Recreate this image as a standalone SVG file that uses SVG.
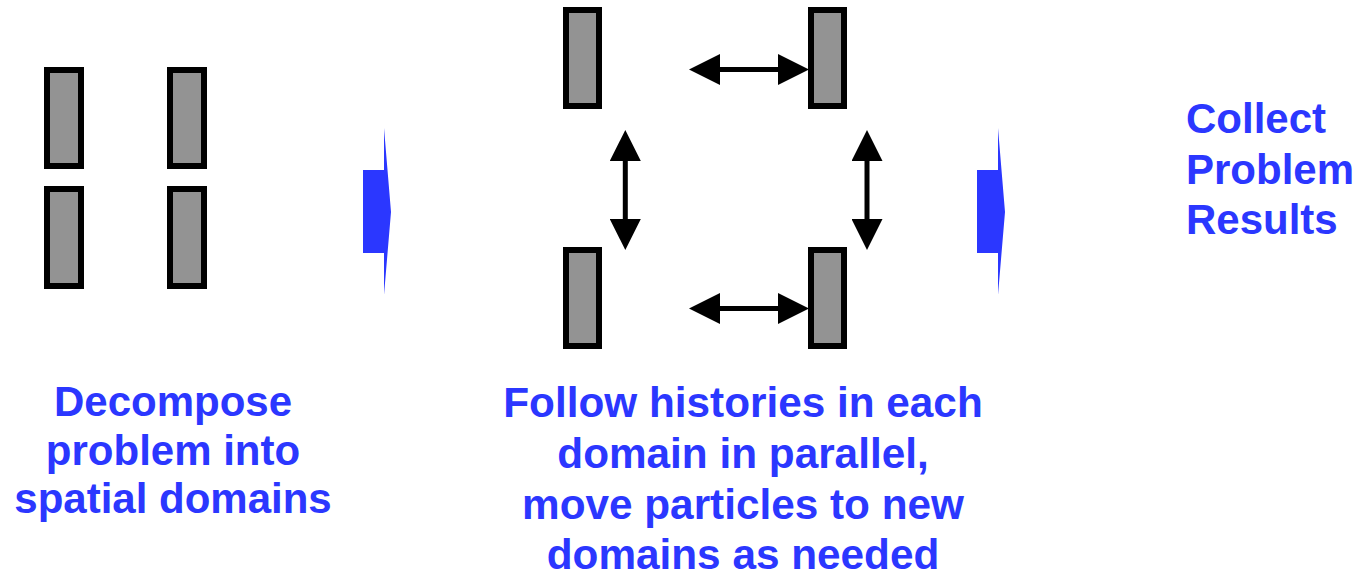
<svg xmlns="http://www.w3.org/2000/svg" width="1357" height="573" viewBox="0 0 1357 573">
<style>
.dom{fill:#939393;stroke:#000;stroke-width:6}
.conn{stroke:#000;stroke-width:5;fill:none;marker-start:url(#head);marker-end:url(#head)}
.flow{fill:#2b37ff}
.lbl{font-family:"Liberation Sans",Arial,sans-serif;font-weight:bold;font-size:42px;fill:#2b37ff}
</style>
<defs>
<marker id="head" viewBox="0 0 31 31" refX="0" refY="15.5" markerWidth="31" markerHeight="31" markerUnits="userSpaceOnUse" orient="auto-start-reverse">
<path d="M0,0 L31,15.5 L0,31 Z" fill="#000"/>
</marker>
</defs>
<rect width="1357" height="573" fill="#fff"/>
<g id="left-domains">
<rect id="ld1" class="dom" x="47" y="70" width="34" height="96"/>
<rect id="ld2" class="dom" x="170" y="70" width="34" height="96"/>
<rect id="ld3" class="dom" x="47" y="189" width="34" height="97"/>
<rect id="ld4" class="dom" x="170" y="189" width="34" height="97"/>
</g>
<g id="mid-domains">
<rect id="md1" class="dom" x="566" y="10" width="33" height="96"/>
<rect id="md2" class="dom" x="811" y="10" width="33" height="96"/>
<rect id="md3" class="dom" x="566" y="250" width="33" height="96"/>
<rect id="md4" class="dom" x="811" y="250" width="33" height="96"/>
</g>
<g id="connectors">
<path class="conn" d="M720,69.5 H778"/>
<path class="conn" d="M720,308.5 H778"/>
<path class="conn" d="M625.3,161 V219"/>
<path class="conn" d="M867,161 V219"/>
</g>
<g id="step-arrow-1">
<polygon class="flow" points="363,170 384,170 384,128 391,212 384,295 384,253 363,253"/>
</g>
<g id="step-arrow-2">
<polygon class="flow" points="977,170 998,170 998,128 1005,212 998,295 998,253 977,253"/>
</g>
<g id="label-decompose">
<text class="lbl" text-anchor="middle" x="173" y="416">Decompose</text>
<text class="lbl" text-anchor="middle" x="173" y="465">problem into</text>
<text class="lbl" text-anchor="middle" x="173" y="513">spatial domains</text>
</g>
<g id="label-follow">
<text class="lbl" text-anchor="middle" x="743" y="417" style="font-size:42.3px">Follow histories in each</text>
<text class="lbl" text-anchor="middle" x="743" y="468" style="font-size:42.3px">domain in parallel,</text>
<text class="lbl" text-anchor="middle" x="743" y="519" style="font-size:42.3px">move particles to new</text>
<text class="lbl" text-anchor="middle" x="743" y="569" style="font-size:42.3px">domains as needed</text>
</g>
<g id="label-collect">
<text class="lbl" x="1186" y="133">Collect</text>
<text class="lbl" x="1186" y="184">Problem</text>
<text class="lbl" x="1186" y="234">Results</text>
</g>
</svg>
